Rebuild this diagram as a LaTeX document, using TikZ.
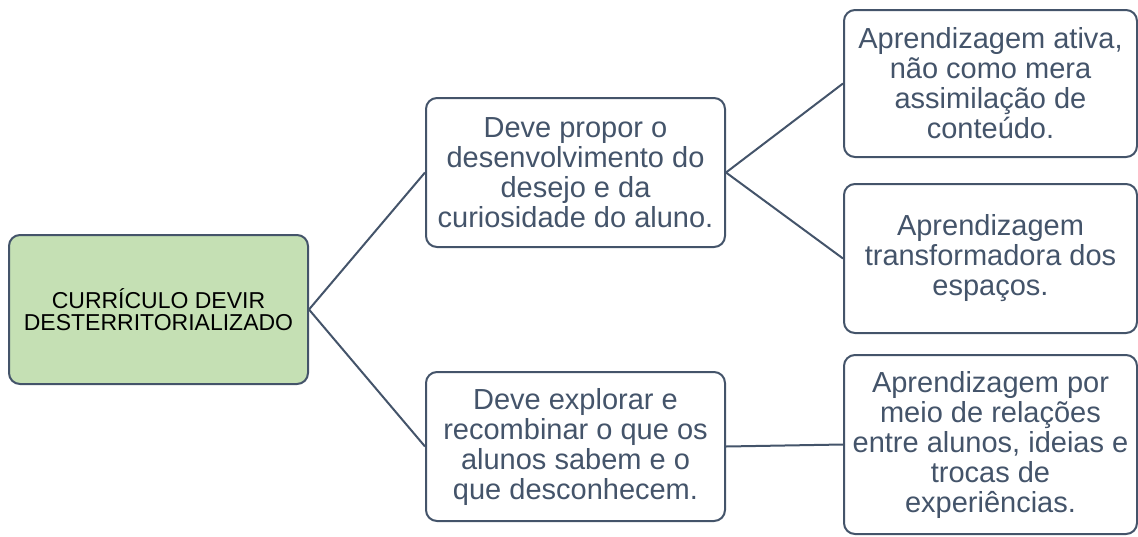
\documentclass[tikz,border=0pt]{standalone}
\usepackage{fontspec}
\setmainfont{Liberation Sans}
\usepackage{tikz}
\usetikzlibrary{positioning}
\definecolor{slate}{HTML}{44546A}
\definecolor{leafgreen}{HTML}{C5E0B4}

\begin{document}
\begin{tikzpicture}[
    x=1pt, y=-1pt,
    every edge/.style={draw=slate, line width=2pt},
    every node/.style={draw=slate, line width=2pt, rounded corners=11pt,
align=center, inner sep=4pt, text=slate, fill=white,
font=\fontsize{29}{30}\selectfont}]

    \useasboundingbox (0,0) rectangle (1138,536);

    \node[fill=leafgreen, text=black, minimum width=299pt, minimum height=149pt,
          font=\fontsize{23}{22}\selectfont] (root) at (158.5,309.5)
          {CURRÍCULO DEVIR\\DESTERRITORIALIZADO};

    \node [minimum width=299pt, minimum height=149pt] (desejo) at (575.5,172.5)
          {Deve propor o\\desenvolvimento do\\desejo e da\\curiosidade do aluno.};
        \node [minimum width=293pt, minimum height=147pt] (ativa) at (990.5,83.5)
              {Aprendizagem ativa,\\não como mera\\assimilação de\\conteúdo.};
        \node [minimum width=293pt, minimum height=149pt] (espacos) at (990.5,258.5)
              {Aprendizagem\\transformadora dos\\espaços.};

    \node [minimum width=299pt, minimum height=149pt] (explorar) at (575.5,446.5)
          {Deve explorar e\\recombinar o que os\\alunos sabem e o\\que desconhecem.};
        \node [minimum width=293pt, minimum height=179pt] (relacoes) at (990.5,444.5)
              {Aprendizagem por\\meio de relações\\entre alunos, ideias e\\trocas de\\experiências.};

    \draw (root.east) edge (desejo.west) edge (explorar.west);
    \draw (desejo.east) edge (ativa.west) edge (espacos.west);
    \draw (explorar.east) edge (relacoes.west);

\end{tikzpicture}
\end{document}
